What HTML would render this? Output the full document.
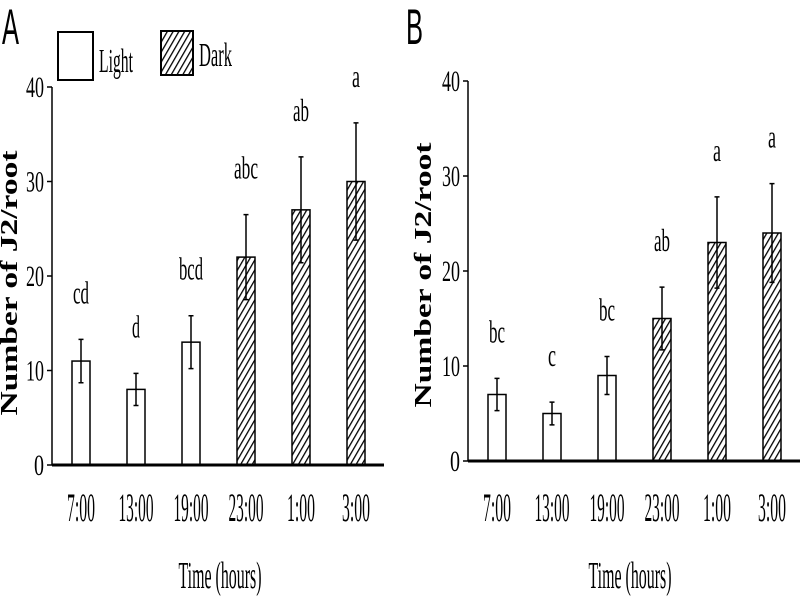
<!DOCTYPE html>
<html><head><meta charset="utf-8"><style>
html,body{margin:0;padding:0;background:#fff;}
svg{display:block;}
text{font-family:"Liberation Serif",serif;fill:#000;}
</style></head><body>
<svg id="chart" width="800" height="600" viewBox="0 0 800 600" xmlns="http://www.w3.org/2000/svg">
<defs>
<pattern id="hatch" patternUnits="userSpaceOnUse" width="5" height="5" patternTransform="rotate(30)">
<rect width="5" height="5" fill="#fff"/>
<line x1="0" y1="0" x2="0" y2="5" stroke="#000" stroke-width="2.6"/>
</pattern>
</defs>
<g id="root"></g>
</svg>
<script>
const categories = ["7:00","13:00","19:00","23:00","1:00","3:00"];
const isDark = [false,false,false,true,true,true];
const valuesA = [11,8,13,22,27,30];
const errorsA = [2.3,1.7,2.8,4.5,5.6,6.2];
const lettersA = ["cd","d","bcd","abc","ab","a"];
const valuesB = [7,5,9,15,23,24];
const errorsB = [1.7,1.2,2.0,3.3,4.8,5.2];
const lettersB = ["bc","c","bc","ab","a","a"];
const yTicks = [0,10,20,30,40];

const NS = "http://www.w3.org/2000/svg";
const root = document.getElementById('root');
function mk(tag, attrs, parent){
  const e = document.createElementNS(NS, tag);
  for (const k in attrs) e.setAttribute(k, attrs[k]);
  (parent||root).appendChild(e);
  return e;
}
function txt(str, x, y, size, width, anchor, parent){
  const t = mk('text', {x:x, y:y, 'font-size':size, 'text-anchor':anchor||'middle', textLength:width, lengthAdjust:'spacingAndGlyphs'}, parent);
  t.textContent = str;
  return t;
}

function panel(cfg){
  const g = mk('g', {});
  
  
  const y = v => cfg.y0 - v * cfg.ppu;
  const x = i => cfg.x0 + i * 55;
  const ax = mk('line', {x1:cfg.ax, y1:y(40), x2:cfg.ax, y2:y(0), stroke:'#000','stroke-width':1.5}, g);
  
  
  yTicks.forEach(t => {
    mk('line', {x1:cfg.ax-5, y1:y(t), x2:cfg.ax, y2:y(t), stroke:'#000','stroke-width':1.5}, g);
    const tl = txt(String(t), cfg.ax-8, y(t)+10, 30, t===0?10:18, 'end', g);
    
    
  });
  categories.forEach((c, i) => {
    const v = cfg.values[i], e = cfg.errors[i], cx = x(i);
    const b = mk('rect', {x:cx-9, y:y(v), width:18, height:y(0)-y(v), fill:isDark[i]?'url(#hatch)':'#fff', stroke:'#000','stroke-width':1.5}, g);
    
    
    const eb = mk('path', {d:`M${cx},${y(v-e)}V${y(v+e)}M${cx-2.5},${y(v+e)}H${cx+2.5}M${cx-2.5},${y(v-e)}H${cx+2.5}`, stroke:'#000','stroke-width':1.5, fill:'none'}, g);
    
    
    const L = cfg.letters[i];
    const lt = txt(L, cx, y(v+e) - 36, 32, L.length*8, 'middle', g);
    
    
    const xl = txt(c, cx, 521, 40, c.length*7, 'middle', g);
    
    
  });
  const bl = mk('line', {x1:cfg.ax, y1:y(0), x2:cfg.axEnd, y2:y(0), stroke:'#000','stroke-width':3}, g);
  
  
  const xt = txt('Time (hours)', cfg.titleX, 588, 38, 83, 'middle', g);
  
  
  const yt = mk('text', {x:0, y:0, 'font-size':24, 'font-weight':'bold', 'text-anchor':'middle', textLength:265, lengthAdjust:'spacingAndGlyphs', transform:`translate(${cfg.ylx},${cfg.yly}) rotate(-90)`}, g);
  yt.textContent = 'Number of J2/root';
  
  
  const pl = mk('text', {x:cfg.plx, y:44, 'font-size':50, textLength:17, lengthAdjust:'spacingAndGlyphs', style:'font-family:"Liberation Sans",sans-serif'}, g);
  pl.textContent = cfg.label;
  
  
}

panel({name:'panel-a', label:'A', plx:2, ax:52, axEnd:384, x0:81, y0:465, ppu:9.45, values:valuesA, errors:errorsA, letters:lettersA, titleX:220, ylx:17, yly:283});
panel({name:'panel-b', label:'B', plx:406, ax:468, axEnd:800, x0:497, y0:461, ppu:9.5, values:valuesB, errors:errorsB, letters:lettersB, titleX:630, ylx:431, yly:275});

const lg = mk('g', {});


const l1 = mk('rect', {x:58, y:32, width:35, height:48, fill:'#fff', stroke:'#000','stroke-width':2}, lg);


const t1 = txt('Light', 99, 72, 34, 34, 'start', lg);


const l2 = mk('rect', {x:161, y:31, width:32, height:44, fill:'url(#hatch)', stroke:'#000','stroke-width':2}, lg);


const t2 = txt('Dark', 199, 66, 34, 33, 'start', lg);


</script>
</body></html>
